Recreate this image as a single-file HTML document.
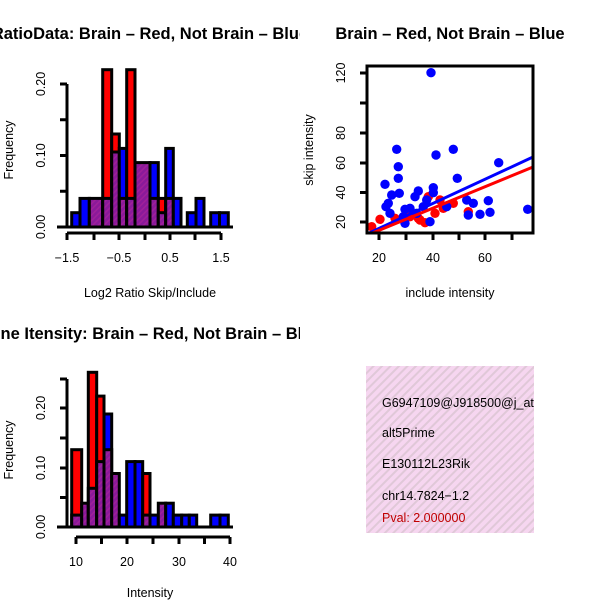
<!DOCTYPE html>
<html><head><style>body{margin:0;background:#fff}svg{display:block}text{font-family:"Liberation Sans",sans-serif}</style></head><body>
<svg width="600" height="600" xmlns="http://www.w3.org/2000/svg">
<defs>
<clipPath id="cl"><rect x="0" y="0" width="300" height="600"/></clipPath>
<clipPath id="c2"><rect x="367" y="66" width="166" height="167"/></clipPath>
<clipPath id="c3"><rect x="366" y="366" width="168" height="167"/></clipPath>
<pattern id="pk" width="6" height="6" patternUnits="userSpaceOnUse" patternTransform="rotate(45)"><rect width="6" height="6" fill="#f6d6f0"/><rect width="2" height="6" fill="#e0c8d8"/></pattern>
<pattern id="pu" width="4" height="4" patternUnits="userSpaceOnUse" patternTransform="rotate(45)"><rect width="4" height="4" fill="#8a1a9a"/><rect width="1.5" height="4" fill="#a0209a"/></pattern>
</defs>
<g font-weight="bold" font-size="16.5" clip-path="url(#cl)">
<text x="150" y="39" text-anchor="middle">RatioData: Brain – Red, Not Brain – Blue</text>
<text x="150" y="339" text-anchor="middle">Gene Itensity: Brain – Red, Not Brain – Blue</text>
</g>
<text x="450" y="39" text-anchor="middle" font-weight="bold" font-size="16.5">Brain – Red, Not Brain – Blue</text>

<!-- Plot 1 -->
<g stroke="#000" stroke-width="3">
<rect x="71.7" y="212.7" width="8.3" height="14.3" fill="#00f"/>
<rect x="80" y="198.4" width="9.3" height="28.6" fill="#00f"/>
<rect x="89.3" y="198.4" width="13.4" height="28.6" fill="url(#pu)"/>
<rect x="102.7" y="69.7" width="9" height="157.3" fill="#f00"/>
<rect x="102.7" y="198.4" width="9" height="28.6" fill="url(#pu)"/>
<rect x="111.7" y="134" width="7.6" height="93" fill="#f00"/>
<rect x="111.7" y="152" width="7.6" height="75" fill="url(#pu)"/>
<rect x="119.3" y="148.4" width="7.4" height="78.6" fill="#00f"/>
<rect x="119.3" y="198.4" width="7.4" height="28.6" fill="url(#pu)"/>
<rect x="126.7" y="69.7" width="8.3" height="157.3" fill="#f00"/>
<rect x="126.7" y="198.4" width="8.3" height="28.6" fill="url(#pu)"/>
<rect x="135" y="162.6" width="15" height="64.4" fill="url(#pu)"/>
<rect x="150" y="162.6" width="8.3" height="64.4" fill="#00f"/>
<rect x="150" y="198.4" width="8.3" height="28.6" fill="url(#pu)"/>
<rect x="158.3" y="198.4" width="7.4" height="28.6" fill="#f00"/>
<rect x="158.3" y="212.7" width="7.4" height="14.3" fill="url(#pu)"/>
<rect x="165.7" y="148.4" width="7.6" height="78.6" fill="#00f"/>
<rect x="165.7" y="198.4" width="7.6" height="28.6" fill="url(#pu)"/>
<rect x="173.3" y="198.4" width="7.7" height="28.6" fill="#00f"/>
<rect x="187.3" y="212.7" width="8.7" height="14.3" fill="#00f"/>
<rect x="196" y="198.4" width="8" height="28.6" fill="#00f"/>
<rect x="210.7" y="212.7" width="8.8" height="14.3" fill="#00f"/>
<rect x="219.5" y="212.7" width="8.8" height="14.3" fill="#00f"/>
<line x1="57" y1="227" x2="233" y2="227"/>
<path d="M67 84V227M60 84H67M60 119.8H67M60 155.5H67M60 191.3H67M60 227H67" fill="none"/>
<path d="M67 233H221M67 233V240M94 233V240M119 233V240M145 233V240M170 233V240M195 233V240M221 233V240" fill="none"/>
</g>
<g font-size="12.5">
<text transform="translate(45,227) rotate(-90)" text-anchor="middle">0.00</text>
<text transform="translate(45,155.5) rotate(-90)" text-anchor="middle">0.10</text>
<text transform="translate(45,84) rotate(-90)" text-anchor="middle">0.20</text>
<text x="67" y="262" text-anchor="middle">−1.5</text>
<text x="119" y="262" text-anchor="middle">−0.5</text>
<text x="170" y="262" text-anchor="middle">0.5</text>
<text x="221" y="262" text-anchor="middle">1.5</text>
<text x="150" y="297" text-anchor="middle">Log2 Ratio Skip/Include</text>
<text transform="translate(13,150) rotate(-90)" text-anchor="middle">Frequency</text>
</g>

<!-- Plot 2 -->
<g clip-path="url(#c2)">
<g fill="#f00">
<circle cx="371.7" cy="226.7" r="4.7"/><circle cx="380" cy="219.3" r="4.7"/><circle cx="395" cy="218.3" r="4.7"/><circle cx="410" cy="216.7" r="4.7"/><circle cx="420" cy="220" r="4.7"/><circle cx="425" cy="222.7" r="4.7"/><circle cx="428.3" cy="196.7" r="4.7"/><circle cx="440" cy="200" r="4.7"/><circle cx="435" cy="213.3" r="4.7"/><circle cx="453.3" cy="203.3" r="4.7"/><circle cx="443.3" cy="208.3" r="4.7"/><circle cx="468.3" cy="211.7" r="4.7"/><circle cx="418.3" cy="218.3" r="4.7"/>
</g>
<g fill="#00f">
<circle cx="431" cy="72.7" r="4.7"/><circle cx="396.7" cy="149.3" r="4.7"/><circle cx="453.3" cy="149.3" r="4.7"/><circle cx="436" cy="155" r="4.7"/><circle cx="498.7" cy="162.7" r="4.7"/><circle cx="398.3" cy="166.7" r="4.7"/><circle cx="398.3" cy="178.3" r="4.7"/><circle cx="457.3" cy="178.3" r="4.7"/><circle cx="385" cy="184.3" r="4.7"/><circle cx="433.3" cy="187.7" r="4.7"/><circle cx="433.3" cy="192.7" r="4.7"/><circle cx="418.3" cy="191" r="4.7"/><circle cx="399.3" cy="193.3" r="4.7"/><circle cx="391.7" cy="195" r="4.7"/><circle cx="388.3" cy="203.3" r="4.7"/><circle cx="386" cy="206.7" r="4.7"/><circle cx="390" cy="213.3" r="4.7"/><circle cx="405" cy="209.3" r="4.7"/><circle cx="410" cy="208.3" r="4.7"/><circle cx="415" cy="196.7" r="4.7"/><circle cx="426.7" cy="200" r="4.7"/><circle cx="423.3" cy="206.7" r="4.7"/><circle cx="466.7" cy="200" r="4.7"/><circle cx="473.3" cy="203.3" r="4.7"/><circle cx="488.3" cy="200.7" r="4.7"/><circle cx="468.3" cy="215" r="4.7"/><circle cx="480" cy="214.3" r="4.7"/><circle cx="490" cy="212.3" r="4.7"/><circle cx="527.7" cy="209.3" r="4.7"/><circle cx="430" cy="221.7" r="4.7"/><circle cx="405" cy="223.3" r="4.7"/><circle cx="403.3" cy="216.7" r="4.7"/><circle cx="416.7" cy="213.3" r="4.7"/><circle cx="446.7" cy="206.7" r="4.7"/>
</g>
<line x1="367" y1="234" x2="533" y2="157" stroke="#00f" stroke-width="3"/>
<line x1="370" y1="234" x2="533" y2="167" stroke="#f00" stroke-width="3"/>
</g>
<g stroke="#000" stroke-width="3" fill="none">
<rect x="367" y="66" width="166" height="167"/>
<path d="M379 233V240M406 233V240M433 233V240M459 233V240M485 233V240M512 233V240"/>
<path d="M360 222H367M360 192.5H367M360 163H367M360 133H367M360 103H367M360 73H367"/>
</g>
<g font-size="12.5">
<text x="379" y="262" text-anchor="middle">20</text>
<text x="433" y="262" text-anchor="middle">40</text>
<text x="485" y="262" text-anchor="middle">60</text>
<text transform="translate(345,222) rotate(-90)" text-anchor="middle">20</text>
<text transform="translate(345,192.5) rotate(-90)" text-anchor="middle">40</text>
<text transform="translate(345,163) rotate(-90)" text-anchor="middle">60</text>
<text transform="translate(345,133) rotate(-90)" text-anchor="middle">80</text>
<text transform="translate(345,73) rotate(-90)" text-anchor="middle">120</text>
<text x="450" y="297" text-anchor="middle">include intensity</text>
<text transform="translate(313,150) rotate(-90)" text-anchor="middle">skip intensity</text>
</g>

<!-- Plot 3 -->
<g stroke="#000" stroke-width="3">
<rect x="71.7" y="449.7" width="10" height="77.3" fill="#f00"/>
<rect x="71.7" y="515.1" width="10" height="11.9" fill="url(#pu)"/>
<rect x="81.7" y="503.2" width="6.6" height="23.8" fill="url(#pu)"/>
<rect x="88.3" y="372.3" width="8.4" height="154.7" fill="#f00"/>
<rect x="88.3" y="488.3" width="8.4" height="38.7" fill="url(#pu)"/>
<rect x="96.7" y="396.1" width="7.3" height="130.9" fill="#f00"/>
<rect x="96.7" y="461.6" width="7.3" height="65.4" fill="url(#pu)"/>
<rect x="104" y="414" width="7.7" height="113" fill="#00f"/>
<rect x="104" y="449.7" width="7.7" height="77.3" fill="url(#pu)"/>
<rect x="111.7" y="473.5" width="7.6" height="53.5" fill="url(#pu)"/>
<rect x="119.3" y="515.1" width="7.4" height="11.9" fill="#00f"/>
<rect x="126.7" y="461.6" width="8.3" height="65.4" fill="#00f"/>
<rect x="135" y="461.6" width="7.7" height="65.4" fill="#00f"/>
<rect x="142.7" y="473.5" width="7.3" height="53.5" fill="#f00"/>
<rect x="142.7" y="515.1" width="7.3" height="11.9" fill="url(#pu)"/>
<rect x="150" y="515.1" width="8.3" height="11.9" fill="#00f"/>
<rect x="158.3" y="503.2" width="7.4" height="23.8" fill="url(#pu)"/>
<rect x="165.7" y="503.2" width="7.6" height="23.8" fill="#00f"/>
<rect x="173.3" y="515.1" width="8.4" height="11.9" fill="#00f"/>
<rect x="181.7" y="515.1" width="7.6" height="11.9" fill="#00f"/>
<rect x="189.3" y="515.1" width="7.4" height="11.9" fill="#00f"/>
<rect x="210.7" y="515.1" width="9.3" height="11.9" fill="#00f"/>
<rect x="220" y="515.1" width="8.3" height="11.9" fill="#00f"/>
<line x1="57" y1="527" x2="233" y2="527"/>
<path d="M67 379V527M60 379H67M60 408H67M60 438H67M60 468H67M60 497.5H67M60 527H67" fill="none"/>
<path d="M76 537H230M76 537V544M101.5 537V544M127 537V544M153 537V544M179 537V544M204.5 537V544M230 537V544" fill="none"/>
</g>
<g font-size="12.5">
<text transform="translate(45,527) rotate(-90)" text-anchor="middle">0.00</text>
<text transform="translate(45,468) rotate(-90)" text-anchor="middle">0.10</text>
<text transform="translate(45,408) rotate(-90)" text-anchor="middle">0.20</text>
<text x="76" y="566" text-anchor="middle">10</text>
<text x="127" y="566" text-anchor="middle">20</text>
<text x="179" y="566" text-anchor="middle">30</text>
<text x="230" y="566" text-anchor="middle">40</text>
<text x="150" y="597" text-anchor="middle">Intensity</text>
<text transform="translate(13,450) rotate(-90)" text-anchor="middle">Frequency</text>
</g>

<!-- Text panel -->
<rect x="366" y="366" width="168" height="167" fill="url(#pk)"/>
<g clip-path="url(#c3)" font-size="12.5">
<text x="382" y="407">G6947109@J918500@j_at</text>
<text x="382" y="437">alt5Prime</text>
<text x="382" y="468">E130112L23Rik</text>
<text x="382" y="500">chr14.7824−1.2</text>
<text x="382" y="522" fill="#c00000">Pval: 2.000000</text>
</g>
</svg>
</body></html>
